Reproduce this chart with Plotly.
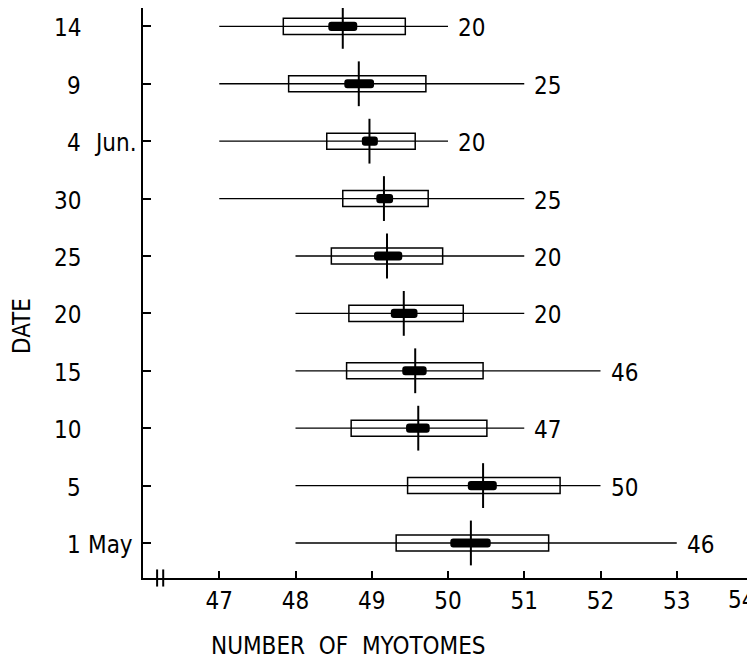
import plotly.graph_objects as go

# Data (bottom to top)
days = ["1", "5", "10", "15", "20", "25", "30", "4", "9", "14"]
months = ["May", "", "", "", "", "", "", "Jun.", "", ""]
n_samples = [46, 50, 47, 46, 20, 20, 25, 20, 25, 20]
range_min = [48, 48, 48, 48, 48, 48, 47, 47, 47, 47]
range_max = [53, 52, 51, 52, 51, 51, 51, 50, 51, 50]
box_lo = [49.32, 49.47, 48.73, 48.67, 48.70, 48.47, 48.62, 48.41, 47.91, 47.84]
box_hi = [51.32, 51.47, 50.51, 50.46, 50.20, 49.93, 49.74, 49.57, 49.71, 49.44]
se_lo = [50.03, 50.26, 49.45, 49.40, 49.25, 49.03, 49.06, 48.87, 48.64, 48.43]
se_hi = [50.56, 50.64, 49.76, 49.72, 49.60, 49.40, 49.28, 49.08, 49.03, 48.81]
means = [50.30, 50.46, 49.61, 49.57, 49.42, 49.20, 49.16, 48.97, 48.83, 48.62]
x_ticks = [47, 48, 49, 50, 51, 52, 53, 54]

FONT = "DejaVu Sans Condensed, Liberation Sans Narrow, Arial Narrow, sans-serif"
idx = list(range(len(days)))

fig = go.Figure()

# range lines
lx, ly = [], []
for i in idx:
    lx += [range_min[i], range_max[i], None]
    ly += [i, i, None]
fig.add_trace(go.Scatter(x=lx, y=ly, mode="lines", line=dict(color="black", width=1.3),
                         hoverinfo="skip", showlegend=False))

# boxes (outline)
fig.add_trace(go.Bar(orientation="h", y=idx, base=box_lo,
                     x=[h - l for l, h in zip(box_lo, box_hi)], width=0.28,
                     marker=dict(color="rgba(0,0,0,0)", line=dict(color="black", width=1.5)),
                     showlegend=False))
# black bars
fig.add_trace(go.Bar(orientation="h", y=idx, base=se_lo,
                     x=[h - l for l, h in zip(se_lo, se_hi)], width=0.16,
                     marker=dict(color="black", line=dict(color="black", width=0),
                                 cornerradius=3),
                     showlegend=False))
# mean ticks
fig.add_trace(go.Scatter(x=means, y=idx, mode="markers",
                         marker=dict(symbol="line-ns", size=32, line=dict(color="black", width=2)),
                         showlegend=False))

annotations = []
for i in idx:
    annotations.append(dict(x=range_max[i], y=i, xref="x", yref="y", text=str(n_samples[i]),
                            xanchor="left", yanchor="middle", xshift=8, yshift=-2, showarrow=False,
                            font=dict(family=FONT, size=24, color="black")))
    annotations.append(dict(x=0, y=i, xref="paper", yref="y", text=days[i],
                            xanchor="right", yanchor="middle", xshift=-60, yshift=-2, showarrow=False,
                            font=dict(family=FONT, size=24, color="black")))
    if months[i]:
        annotations.append(dict(x=0, y=i, xref="paper", yref="y", text=months[i],
                                xanchor="left", yanchor="middle",
                                xshift=-57 if months[i] == "May" else -51, yshift=-2,
                                showarrow=False, font=dict(family=FONT, size=24, color="black")))

# last x tick label, kept inside the picture edge
annotations.append(dict(x=x_ticks[-1], y=0, xref="x", yref="paper", text=str(x_ticks[-1]),
                        xanchor="right", yanchor="middle", xshift=4, yshift=-22, showarrow=False,
                        font=dict(family=FONT, size=24, color="black")))

annotations.append(dict(x=0, y=0.5, xref="paper", yref="paper", text="DATE", textangle=-90,
                        xanchor="center", yanchor="middle", xshift=-121, yshift=-33, showarrow=False,
                        font=dict(family=FONT, size=24, color="black")))
annotations.append(dict(x=0, y=0, xref="paper", yref="paper", text="NUMBER  OF  MYOTOMES",
                        xanchor="center", yanchor="middle", xshift=205, yshift=-68, showarrow=False,
                        font=dict(family=FONT, size=24, color="black")))

shapes = [
    dict(type="line", xref="x", yref="paper", x0=46.185, x1=46.185, y0=-0.015, y1=0.015,
         line=dict(color="black", width=2)),
    dict(type="line", xref="x", yref="paper", x0=46.265, x1=46.265, y0=-0.015, y1=0.015,
         line=dict(color="black", width=2)),
]

# the page body has an 8px margin; margins below compensate for it
fig.update_layout(
    width=755, height=661,
    margin=dict(l=135, r=10, t=0, b=91, autoexpand=False),
    paper_bgcolor="white", plot_bgcolor="white",
    barmode="overlay",
    showlegend=False,
    annotations=annotations,
    shapes=shapes,
    font=dict(family=FONT, size=24, color="black"),
)
fig.update_xaxes(range=[46, 54], tickvals=x_ticks,
                 ticktext=[str(v) for v in x_ticks[:-1]] + [""],
                 ticks="inside", ticklen=7, tickwidth=2, tickcolor="black", automargin=False,
                 showline=True, linecolor="black", linewidth=2, showgrid=False, zeroline=False,
                 tickfont=dict(family=FONT, size=24, color="black"))
fig.update_yaxes(range=[-0.61, 9.32], tickvals=idx, showticklabels=False, automargin=False,
                 ticks="inside", ticklen=8, tickwidth=2, tickcolor="black",
                 showline=True, linecolor="black", linewidth=2, showgrid=False, zeroline=False)

fig.write_html("out.html")
